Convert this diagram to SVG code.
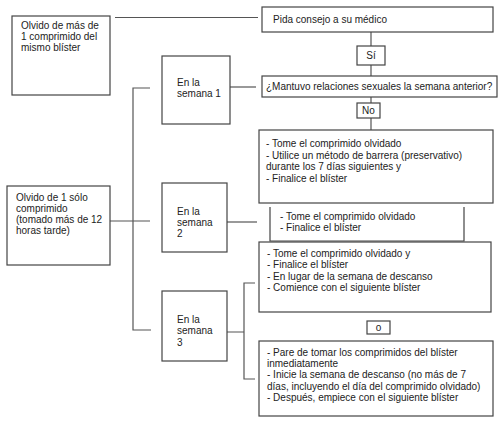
<svg xmlns="http://www.w3.org/2000/svg" width="500" height="424" viewBox="0 0 500 424">
<style>
.b{fill:#fff;stroke:#444;stroke-width:1.2}
.c{fill:none;stroke:#555;stroke-width:1.2}
text{font-family:"Liberation Sans",Arial,sans-serif;font-size:10px;fill:#222}
.m{text-anchor:middle}
</style>
<rect width="500" height="424" fill="#fff"/>
<g id="connectors">
<path class="c" d="M115 17.5H258"/>
<path class="c" d="M371 32V46M371 65V76M371 97V103M371 118V130"/>
<path class="c" d="M230 87H256"/>
<path class="c" d="M150 88H133V330H151M110 221H150"/>
<path class="c" d="M227 222H257"/>
<path class="c" d="M227 332H244M255 283H244V379H255"/>
</g>
<g id="n1"><rect class="b" x="12" y="16" width="98" height="79"/>
<text x="21" y="29">Olvido de más de</text><text x="21" y="40">1 comprimido del</text><text x="21" y="51">mismo blíster</text></g>
<g id="n2"><rect class="b" x="7" y="186" width="103" height="79"/>
<text x="16" y="201">Olvido de 1 sólo</text><text x="16" y="212">comprimido</text><text x="16" y="223">(tomado más de 12</text><text x="16" y="234">horas tarde)</text></g>
<g id="s1"><rect class="b" x="162" y="56" width="68" height="68"/>
<text x="177" y="86">En la</text><text x="177" y="97">semana 1</text></g>
<g id="s2"><rect class="b" x="162" y="183" width="65" height="69"/>
<text x="177" y="215">En la</text><text x="177" y="226">semana</text><text x="177" y="237">2</text></g>
<g id="s3"><rect class="b" x="162" y="291" width="65" height="70"/>
<text x="177" y="323">En la</text><text x="177" y="334">semana</text><text x="177" y="346">3</text></g>
<g id="pida"><rect class="b" x="262" y="7" width="231" height="25"/>
<text x="273" y="22.5">Pida consejo a su médico</text></g>
<g id="si"><rect class="b" x="357" y="46" width="28" height="19"/>
<text class="m" x="371" y="59">Sí</text></g>
<g id="mantuvo"><rect class="b" x="262" y="76" width="235" height="21"/>
<text x="266" y="90">¿Mantuvo relaciones sexuales la semana anterior?</text></g>
<g id="no"><rect class="b" x="357" y="103" width="23" height="15"/>
<text class="m" x="368.5" y="114">No</text></g>
<g id="r1"><rect class="b" x="259" y="130" width="234" height="73"/>
<text x="266" y="147">- Tome el comprimido olvidado</text><text x="266" y="158.5">- Utilice un método de barrera (preservativo)</text><text x="266" y="170">durante los 7 días siguientes y</text><text x="266" y="181.5">- Finalice el blíster</text></g>
<g id="r2"><path class="b" d="M270 207V241H464V207"/>
<text x="280" y="219.5">- Tome el comprimido olvidado</text><text x="280" y="230.5">- Finalice el blíster</text></g>
<g id="r3"><rect class="b" x="259" y="242" width="232" height="70"/>
<text x="267" y="256.5">- Tome el comprimido olvidado y</text><text x="267" y="268">- Finalice el blíster</text><text x="267" y="279.5">- En lugar de la semana de descanso</text><text x="267" y="291">- Comience con el siguiente blíster</text></g>
<g id="o"><rect class="b" x="367" y="321" width="23" height="13"/>
<text class="m" x="378.5" y="331">o</text></g>
<g id="r4"><rect class="b" x="259" y="341" width="234" height="75"/>
<text x="267" y="355.5">- Pare de tomar los comprimidos del blíster</text><text x="267" y="366.5">inmediatamente</text><text x="267" y="378">- Inicie la semana de descanso (no más de 7</text><text x="267" y="389.5">días, incluyendo el día del comprimido olvidado)</text><text x="267" y="401">- Después, empiece con el siguiente blíster</text></g>
</svg>
